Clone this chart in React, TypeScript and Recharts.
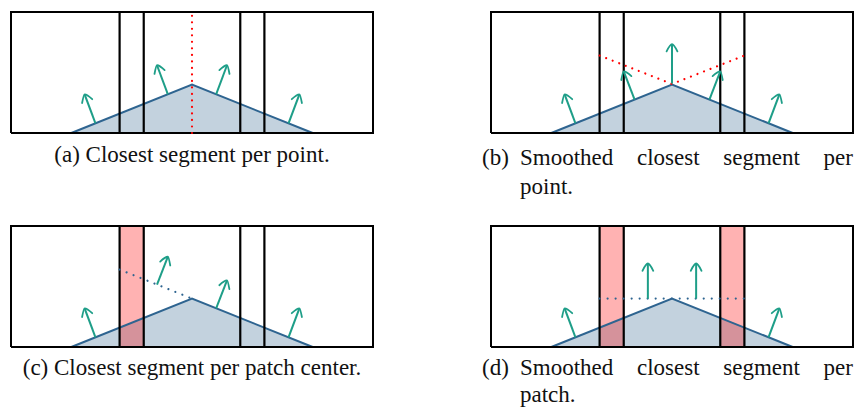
import { ComposedChart, XAxis, YAxis, Area, Line } from 'recharts'

// diagram units: one patch strip is 30 x 10, same scale on both axes
const boxX = [0, 30]
const boxY = [0, 10]
const patchCells = [
  [9, 11],
  [19, 21],
]
const triangle = [
  { x: 5, y: 0 },
  { x: 15, y: 4 },
  { x: 25, y: 0 },
]

const guideA = [
  { x: 15, y: 0 },
  { x: 15, y: 10 },
]
const guideB = [
  { x: 9, y: 6.4 },
  { x: 15, y: 4.05 },
  { x: 21, y: 6.4 },
]
const guideC = [
  { x: 9, y: 6.4 },
  { x: 15, y: 4 },
]
const guideD = [
  { x: 9, y: 4 },
  { x: 21, y: 4 },
]

// normals: tail point and direction
const arrowsA = [
  { x: 7, y: 0.8, dx: -0.9, dy: 2.4 },
  { x: 13, y: 3.2, dx: -0.9, dy: 2.4 },
  { x: 17, y: 3.2, dx: 0.9, dy: 2.4 },
  { x: 23, y: 0.8, dx: 0.9, dy: 2.4 },
]
const arrowsB = [
  { x: 7, y: 0.8, dx: -0.9, dy: 2.4 },
  { x: 11.9, y: 2.75, dx: -0.9, dy: 2.35 },
  { x: 15, y: 4.1, dx: 0, dy: 3.25 },
  { x: 18.1, y: 2.75, dx: 0.9, dy: 2.35 },
  { x: 23, y: 0.8, dx: 0.9, dy: 2.4 },
]
const arrowsC = [
  { x: 7, y: 0.8, dx: -0.9, dy: 2.4 },
  { x: 12.1, y: 5.16, dx: 0.9, dy: 2.3 },
  { x: 17, y: 3.2, dx: 0.9, dy: 2.3 },
  { x: 23, y: 0.8, dx: 0.9, dy: 2.4 },
]
const arrowsD = [
  { x: 7, y: 0.8, dx: -0.9, dy: 2.4 },
  { x: 13, y: 4, dx: 0, dy: 2.9 },
  { x: 17, y: 4, dx: 0, dy: 2.9 },
  { x: 23, y: 0.8, dx: 0.9, dy: 2.4 },
]

interface ArrowDef {
  x: number
  y: number
  dx: number
  dy: number
}

const TEAL = '#1e9e88'
const EDGE = '#2e6490'
const SHAPE = '#c3d2de'

function rect(x1: number, x2: number, y1: number, y2: number) {
  return [
    { x: x1, y: y1 },
    { x: x1, y: y2 },
    { x: x2, y: y2 },
    { x: x2, y: y1 },
    { x: x1, y: y1 },
  ]
}

function arrowHead(a: ArrowDef) {
  const len = Math.hypot(a.dx, a.dy)
  const ux = a.dx / len
  const uy = a.dy / len
  const tx = a.x + a.dx
  const ty = a.y + a.dy
  const w = 0.75
  const ang = 0.64
  const wing = (s: number) => {
    const c = Math.cos(s * ang)
    const sn = Math.sin(s * ang)
    const rx = ux * c - uy * sn
    const ry = ux * sn + uy * c
    return { x: tx - rx * w, y: ty - ry * w }
  }
  return [wing(1), { x: tx, y: ty }, wing(-1)]
}

interface PanelProps {
  left: number
  top: number
  filled: boolean[]
  guide: { x: number; y: number }[]
  guideColor: string
  guideDash: string
  arrows: ArrowDef[]
}

function Panel({ left, top, filled, guide, guideColor, guideDash, arrows }: PanelProps) {
  return (
    <div style={{ position: 'absolute', left, top }}>
      <ComposedChart width={370} height={129} margin={{ top: 4, right: 4, bottom: 4, left: 4 }}>
        <XAxis type="number" dataKey="x" domain={boxX} hide />
        <YAxis type="number" domain={boxY} hide />
        <Area
          data={triangle}
          dataKey="y"
          type="linear"
          fill={SHAPE}
          fillOpacity={1}
          stroke="none"
          isAnimationActive={false}
        />
        {patchCells.map((p, i) =>
          filled[i] ? (
            <Area
              key={`fill-${i}`}
              data={[
                { x: p[0], y: boxY[1] },
                { x: p[1], y: boxY[1] },
              ]}
              dataKey="y"
              type="linear"
              fill="#ff0000"
              fillOpacity={0.3}
              stroke="none"
              isAnimationActive={false}
            />
          ) : null
        )}
        <Line
          data={triangle}
          dataKey="y"
          type="linear"
          stroke={EDGE}
          strokeWidth={2}
          dot={false}
          isAnimationActive={false}
        />
        <Line
          data={rect(boxX[0], boxX[1], boxY[0], boxY[1])}
          dataKey="y"
          type="linear"
          stroke="#000"
          strokeWidth={2}
          dot={false}
          isAnimationActive={false}
        />
        {patchCells.map((p, i) => (
          <Line
            key={`cell-${i}`}
            data={rect(p[0], p[1], boxY[0], boxY[1])}
            dataKey="y"
            type="linear"
            stroke="#000"
            strokeWidth={2.2}
            dot={false}
            isAnimationActive={false}
          />
        ))}
        <Line
          data={guide}
          dataKey="y"
          type="linear"
          stroke={guideColor}
          strokeWidth={2.2}
          strokeDasharray={guideDash}
          strokeLinecap="round"
          dot={false}
          isAnimationActive={false}
        />
        {arrows.map((a, i) => (
          <Line
            key={`shaft-${i}`}
            data={[
              { x: a.x, y: a.y },
              { x: a.x + a.dx, y: a.y + a.dy },
            ]}
            dataKey="y"
            type="linear"
            stroke={TEAL}
            strokeWidth={2}
            dot={false}
            isAnimationActive={false}
          />
        ))}
        {arrows.map((a, i) => (
          <Line
            key={`head-${i}`}
            data={arrowHead(a)}
            dataKey="y"
            type="monotone"
            stroke={TEAL}
            strokeWidth={1.8}
            strokeLinecap="round"
            strokeLinejoin="round"
            dot={false}
            isAnimationActive={false}
          />
        ))}
      </ComposedChart>
    </div>
  )
}

const font: React.CSSProperties = {
  fontFamily: '"Liberation Serif", serif',
  fontSize: 23,
  lineHeight: '30px',
  color: '#111',
  position: 'absolute',
  whiteSpace: 'nowrap',
}

function Caption({
  left,
  top,
  lineHeight,
  label,
  line1,
  line2,
}: {
  left: number
  top: number
  lineHeight: number
  label: string
  line1: string
  line2: string
}) {
  const lh = `${lineHeight}px`
  return (
    <>
      <div style={{ ...font, lineHeight: lh, left, top }}>{label}</div>
      <div style={{ ...font, lineHeight: lh, left: left + 38, top, width: 333, whiteSpace: 'normal' }}>
        <div style={{ textAlign: 'justify', textAlignLast: 'justify' }}>{line1}</div>
        <div>{line2}</div>
      </div>
    </>
  )
}

export default function App() {
  return (
    <div style={{ position: 'absolute', left: 0, top: 0, width: 859, height: 407, background: '#fff', overflow: 'hidden' }}>
      <Panel left={7} top={8} filled={[false, false]} guide={guideA} guideColor="#ff0000" guideDash="0.01 6.5" arrows={arrowsA} />
      <Panel left={487} top={8} filled={[false, false]} guide={guideB} guideColor="#ff0000" guideDash="0.01 7" arrows={arrowsB} />
      <Panel left={7} top={222} filled={[true, false]} guide={guideC} guideColor={EDGE} guideDash="0.01 7.5" arrows={arrowsC} />
      <Panel left={487} top={222} filled={[true, true]} guide={guideD} guideColor={EDGE} guideDash="0.01 8" arrows={arrowsD} />

      <div style={{ ...font, left: 11, top: 140, width: 362, textAlign: 'center' }}>(a) Closest segment per point.</div>
      <Caption left={482} top={143} lineHeight={29} label="(b)" line1="Smoothed closest segment per" line2="point." />
      <div style={{ ...font, left: 11, top: 353, width: 362, textAlign: 'center' }}>(c) Closest segment per patch center.</div>
      <Caption left={482} top={354} lineHeight={27} label="(d)" line1="Smoothed closest segment per" line2="patch." />
    </div>
  )
}
